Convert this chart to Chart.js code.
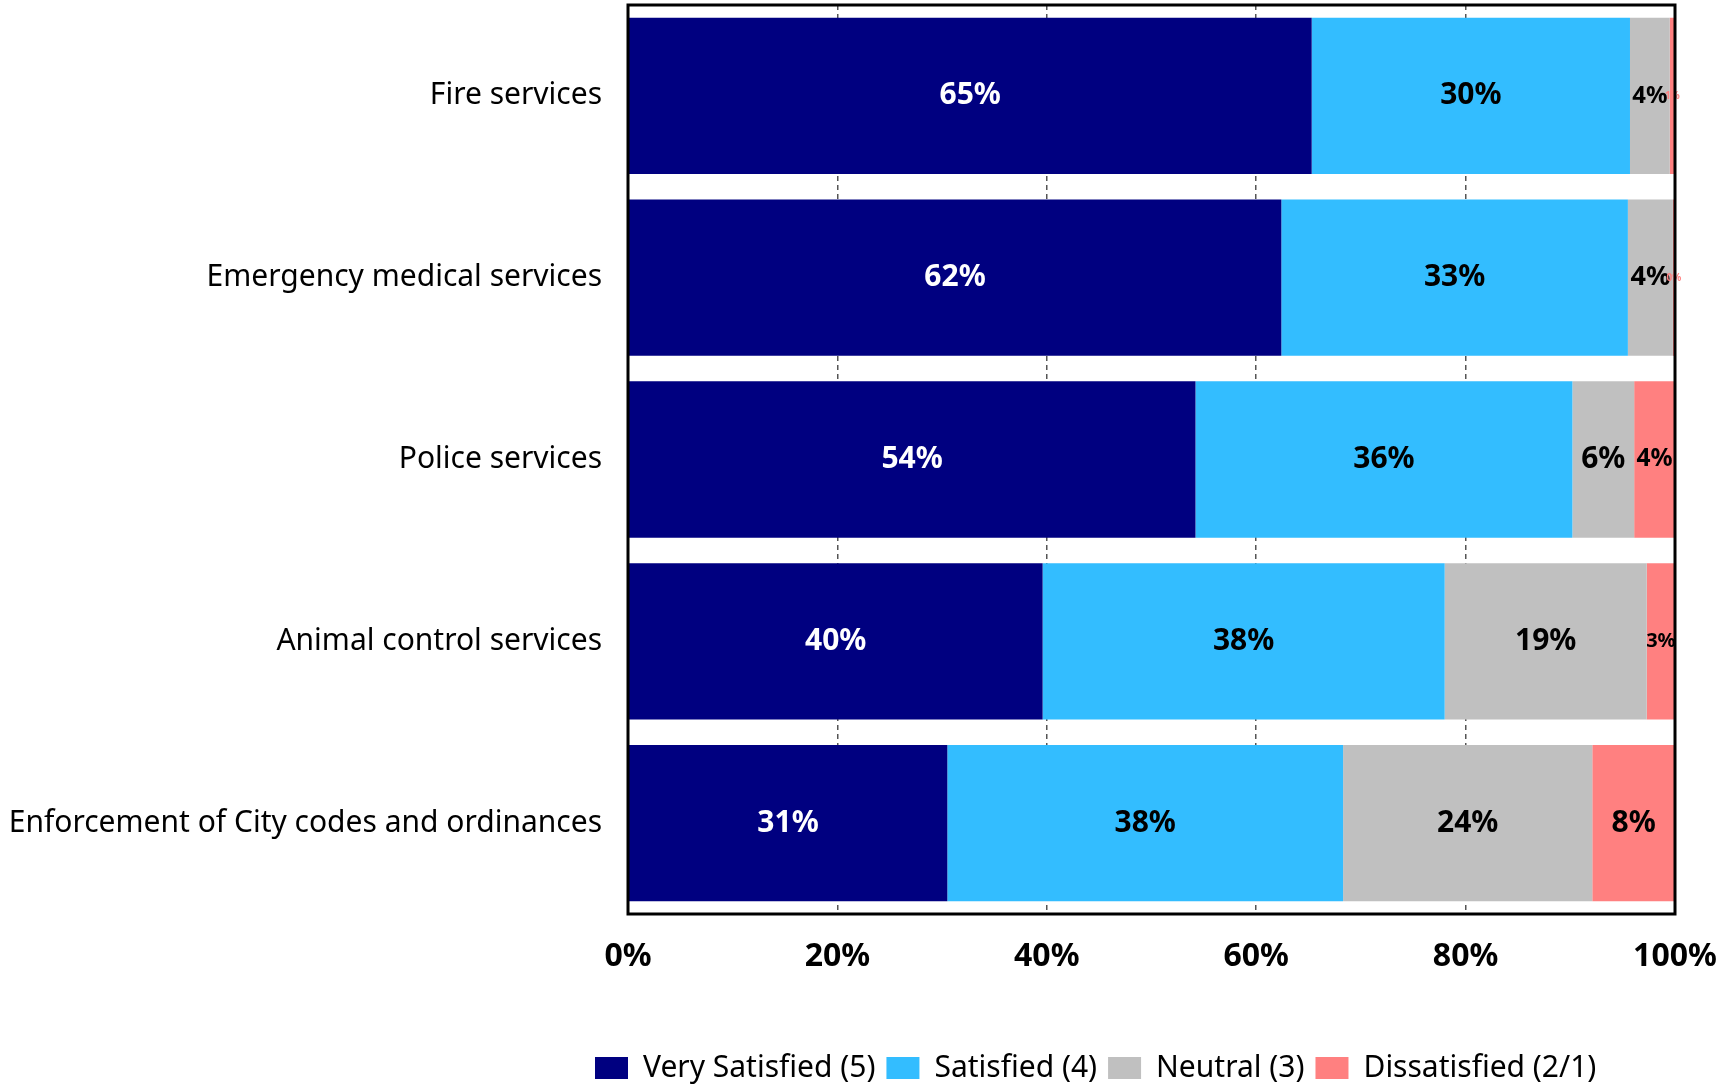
<!DOCTYPE html>
<html>
<head>
<meta charset="utf-8">
<script src="https://cdn.jsdelivr.net/npm/chart.js@4.4.1/dist/chart.umd.min.js"></script>
<style>
  body { margin: 0; background: #fff; }
  #wrap { width: 1719px; height: 1086px; }
</style>
</head>
<body>
<div id="wrap"><canvas id="chart"></canvas></div>
<script>
// data (percent of respondents)
const services = ['Fire services', 'Emergency medical services', 'Police services', 'Animal control services', 'Enforcement of City codes and ordinances'];
const verySatisfied = [65.3, 62.4, 54.2, 39.6, 30.5];
const satisfied = [30.4, 33.1, 36.0, 38.4, 37.8];
const neutral = [3.8, 4.3, 5.9, 19.3, 23.8];
const dissatisfied = [0.5, 0.2, 3.9, 2.7, 7.9];
const xTicks = [0, 20, 40, 60, 80, 100];

const seriesNames = ['Very Satisfied (5)', 'Satisfied (4)', 'Neutral (3)', 'Dissatisfied (2/1)'];
const seriesColors = ['#000080', '#33BDFF', '#C0C0C0', '#FF8080'];
const labelColors = ['#fff', '#000', '#000', '#000'];

const fontMain = '"Noto Sans", "Open Sans", sans-serif';

// black frame round the plot
const framePlugin = {
  id: 'frame',
  afterDraw(chart) {
    const a = chart.chartArea;
    const ctx = chart.ctx;
    ctx.save();
    ctx.strokeStyle = '#000';
    ctx.lineWidth = 3;
    ctx.strokeRect(a.left, a.top, a.right - a.left, a.bottom - a.top);
    ctx.restore();
  }
};

// legend sits under the plot, not centred on the page
const legendShift = {
  id: 'legendShift',
  afterLayout(chart) {
    chart.legend.left = 584;
    chart.legend.top += 7;
  }
};

// value labels in the middle of each segment
const labelPlugin = {
  id: 'segLabels',
  afterDatasetsDraw(chart) {
    const ctx = chart.ctx;
    ctx.save();
    ctx.textAlign = 'center';
    ctx.textBaseline = 'middle';
    chart.data.datasets.forEach((ds, i) => {
      const meta = chart.getDatasetMeta(i);
      meta.data.forEach((bar, j) => {
        const v = ds.data[j];
        const w = Math.abs(bar.x - bar.base);
        const cx = (bar.x + bar.base) / 2;
        if (v < 1) {
          ctx.font = 'bold 10px ' + fontMain;
          ctx.fillStyle = '#FF8080';
        } else {
          let size = Math.min(30, Math.max(20, w * 0.6));
          ctx.font = 'bold ' + size + 'px ' + fontMain;
          ctx.fillStyle = labelColors[i];
        }
        ctx.fillText(Math.round(v) + '%', cx, bar.y);
      });
    });
    ctx.restore();
  }
};

const allSeries = [verySatisfied, satisfied, neutral, dissatisfied];
const datasets = allSeries.map((arr, i) => ({
  label: seriesNames[i],
  data: arr,
  backgroundColor: seriesColors[i],
  borderWidth: 0,
  categoryPercentage: 1,
  barPercentage: 0.86
}));

const config = {
  type: 'bar',
  data: { labels: services, datasets },
  options: {
    indexAxis: 'y',
    responsive: true,
    maintainAspectRatio: false,
    animation: false,
    layout: { padding: { top: 5, right: 44, left: 0, bottom: 0 } },
    plugins: {
      tooltip: { enabled: false },
      legend: {
        position: 'bottom',
        align: 'start',
        labels: {
          boxWidth: 33,
          boxHeight: 22,
          padding: 11,
          color: '#000',
          font: { family: fontMain, size: 30 }
        }
      }
    },
    scales: {
      x: {
        stacked: true,
        min: 0,
        max: 100,
        afterBuildTicks(scale) {
          scale.ticks = xTicks.map(v => ({ value: v }));
        },
        afterFit(scale) {
          scale.height = 121;
          scale.paddingLeft = 0;
          scale.paddingRight = 0;
        },
        grid: {
          color: '#555',
          lineWidth: 1.5,
          drawTicks: false
        },
        border: { display: false, dash: [5, 4] },
        ticks: {
          padding: 24,
          color: '#000',
          font: { family: fontMain, size: 32, weight: 'bold' },
          callback: v => v + '%'
        }
      },
      y: {
        stacked: true,
        afterFit(scale) {
          scale.width = 628;
          scale.paddingTop = 0;
          scale.paddingBottom = 0;
        },
        grid: { display: false, drawTicks: false },
        border: { display: false },
        ticks: {
          padding: 26,
          color: '#000',
          font: { family: fontMain, size: 30 }
        }
      }
    }
  },
  plugins: [labelPlugin, framePlugin, legendShift]
};

let myChart = new Chart(document.getElementById('chart'), config);
</script>
</body>
</html>
